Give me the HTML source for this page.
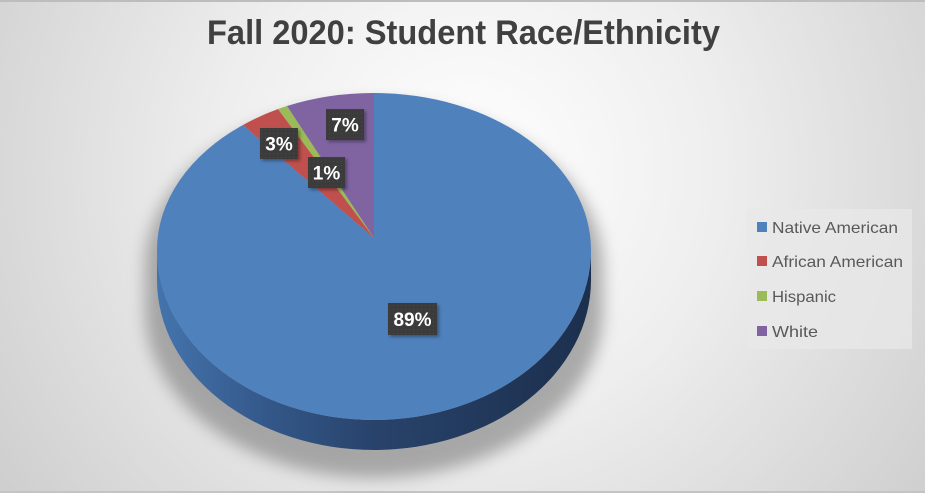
<!DOCTYPE html>
<html><head><meta charset="utf-8"><style>
html,body{margin:0;padding:0;background:#fff;}
svg{display:block;}
</style></head><body>
<svg width="925" height="493" viewBox="0 0 925 493" xmlns="http://www.w3.org/2000/svg">
<defs>
<radialGradient id="bg" cx="470" cy="170" r="560" gradientUnits="userSpaceOnUse">
<stop offset="0" stop-color="#ffffff"/>
<stop offset="0.45" stop-color="#eeeeee"/>
<stop offset="1" stop-color="#cfcfcf"/>
</radialGradient>
<linearGradient id="side" x1="157" y1="0" x2="591" y2="0" gradientUnits="userSpaceOnUse">
<stop offset="0" stop-color="#4474ad"/>
<stop offset="0.25" stop-color="#34588a"/>
<stop offset="0.5" stop-color="#28436b"/>
<stop offset="1" stop-color="#1c2f4d"/>
</linearGradient>
<filter id="blur" x="-20%" y="-20%" width="140%" height="140%"><feGaussianBlur stdDeviation="8"/></filter>
<filter id="lblsh" x="-30%" y="-30%" width="160%" height="160%"><feDropShadow dx="2" dy="2" stdDeviation="1.5" flood-color="#000" flood-opacity="0.35"/></filter>
<pattern id="dots" width="4" height="4" patternUnits="userSpaceOnUse">
<rect width="4" height="4" fill="#3a3a3a"/>
<rect x="1" y="1" width="1" height="1" fill="#4a4a4a"/>
</pattern>
</defs>
<rect width="925" height="493" fill="url(#bg)"/>
<rect x="0" y="0" width="925" height="2" fill="#bdbdbd"/>
<rect x="0" y="491" width="925" height="2" fill="#c4c4c4"/>

<text x="463.5" y="44" text-anchor="middle" font-family="Liberation Sans, sans-serif" font-weight="bold" font-size="34" fill="#404040" textLength="513" lengthAdjust="spacingAndGlyphs">Fall 2020: Student Race/Ethnicity</text>

<!-- shadow -->
<path d="M145,268 A229,165 0 0 1 603,268 L603,310 A229,168 0 0 1 145,310 Z" fill="#7a7a7a" opacity="0.6" filter="url(#blur)"/>

<!-- side -->
<path d="M157,250 A217,170 0 0 0 591,250 L591,280 A217,170 0 0 1 157,280 Z" fill="url(#side)"/>

<!-- top face wedges -->
<path d="M374,238 L374,93 A217,157 0 0 1 591,250 A217,170 0 0 1 157,250 A217,157 0 0 1 243,125 Z" fill="#4f81bd"/>
<path d="M374,238 L243,125 A217,157 0 0 1 278,109 Z" fill="#c0504d"/>
<path d="M374,238 L278,109 A217,157 0 0 1 287,106 Z" fill="#9bbb59"/>
<path d="M374,238 L287,106 A217,157 0 0 1 374,93 Z" fill="#8064a2"/>

<!-- data labels -->
<g font-family="Liberation Sans, sans-serif" font-weight="bold" font-size="19" fill="#ffffff" text-anchor="middle">
<rect x="326" y="109" width="38" height="31" fill="url(#dots)" filter="url(#lblsh)"/>
<text x="345" y="131.5">7%</text>
<rect x="260" y="128" width="38" height="31" fill="url(#dots)" filter="url(#lblsh)"/>
<text x="279" y="150.5">3%</text>
<rect x="308" y="157" width="37" height="31" fill="url(#dots)" filter="url(#lblsh)"/>
<text x="326.5" y="179.5">1%</text>
<rect x="388" y="303" width="49" height="32" fill="url(#dots)" filter="url(#lblsh)"/>
<text x="412.5" y="326">89%</text>
</g>

<!-- legend -->
<rect x="747" y="209" width="165" height="140" fill="#e8e8e8" opacity="0.75"/>
<g font-family="Liberation Sans, sans-serif" font-size="16" fill="#595959">
<rect x="757" y="222" width="10" height="10" fill="#4f81bd"/>
<text x="772" y="233" textLength="126" lengthAdjust="spacingAndGlyphs">Native American</text>
<rect x="757" y="256" width="10" height="10" fill="#c0504d"/>
<text x="772" y="267" textLength="131" lengthAdjust="spacingAndGlyphs">African American</text>
<rect x="757" y="291" width="10" height="10" fill="#9bbb59"/>
<text x="772" y="302" textLength="64" lengthAdjust="spacingAndGlyphs">Hispanic</text>
<rect x="757" y="326" width="10" height="10" fill="#8064a2"/>
<text x="772" y="337" textLength="46" lengthAdjust="spacingAndGlyphs">White</text>
</g>
</svg>
</body></html>
